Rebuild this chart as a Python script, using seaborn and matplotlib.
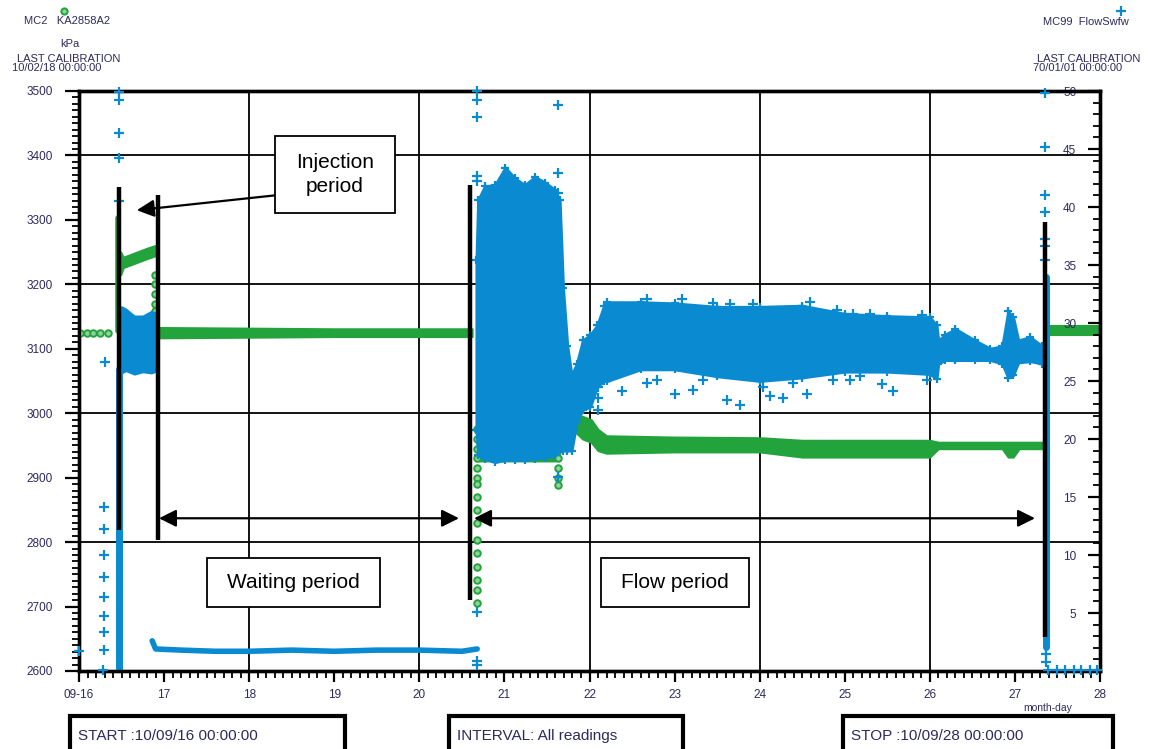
import matplotlib
matplotlib.use("Agg")
import matplotlib.pyplot as plt
from matplotlib.patches import Rectangle
from matplotlib.ticker import MultipleLocator, FixedLocator, FixedFormatter
import seaborn as sns

# ------------------------------------------------------------------
# Time axis: days after 2010-09-16 00:00
# ------------------------------------------------------------------
day_ticks = list(range(0, 13))
day_labels = ["09-16", "17", "18", "19", "20", "21", "22", "23", "24", "25", "26", "27", "28"]
kpa_ticks = [2600, 2700, 2800, 2900, 3000, 3100, 3200, 3300, 3400, 3500]
flow_ticks = [5, 10, 15, 20, 25, 30, 35, 40, 45, 50]
kpa_grid = [2800, 3000, 3200, 3400]
day_grid = [2, 4, 6, 8, 10]

# ------------------------------------------------------------------
# MC99 FlowSwfw (right axis)
# ------------------------------------------------------------------
# scattered readings before injection
flow_pre_d = [0.00, 0.306, 0.294, 0.294, 0.294, 0.294, 0.294, 0.294, 0.294, 0.294, 0.28]
flow_pre_q = [1.7, 26.6, 14.1, 12.2, 10.0, 8.1, 6.4, 4.7, 3.4, 1.8, 0.1]

# start of injection: dense column plus high spikes
flow_inj_col_d = [0.475, 0.475]
flow_inj_col_q = [0.0, 26.0]
flow_inj_spike_d = [0.475, 0.475, 0.475, 0.475, 0.475]
flow_inj_spike_q = [49.9, 49.2, 46.4, 44.2, 40.5]

# injection band (min / max envelope)
flow_inj_d = [0.50, 0.55, 0.65, 0.75, 0.85, 0.89]
flow_inj_hi = [31.4, 31.2, 30.6, 30.6, 31.0, 30.9]
flow_inj_lo = [25.7, 25.9, 25.6, 25.8, 25.7, 25.8]

# waiting period
flow_wait_d = [0.86, 0.90, 1.20, 1.60, 2.00, 2.50, 3.00, 3.50, 4.00, 4.50, 4.68]
flow_wait_q = [2.6, 1.9, 1.8, 1.7, 1.7, 1.8, 1.7, 1.8, 1.8, 1.7, 1.9]

# flow period (min / max envelope of the readings)
flow_per_d = [4.67, 4.69, 4.77, 4.89, 5.01, 5.12, 5.24, 5.36, 5.48, 5.59, 5.65,
              5.69, 5.74, 5.79, 5.85, 5.92, 6.01, 6.09, 6.17, 6.21, 6.60, 7.00,
              7.50, 8.00, 8.50, 9.00, 9.50, 10.00, 10.08, 10.10, 10.18, 10.30,
              10.53, 10.71, 10.85, 10.92, 10.98, 11.04, 11.18, 11.32]
flow_per_hi = [35.4, 40.6, 41.8, 41.9, 43.4, 42.5, 41.9, 42.6, 42.1, 41.5, 40.6,
               33.0, 28.0, 25.5, 26.5, 28.5, 29.0, 29.8, 31.5, 31.8, 31.8, 31.7,
               31.4, 31.4, 31.5, 30.8, 30.6, 30.5, 29.8, 28.5, 29.0, 29.5,
               28.5, 27.8, 28.0, 31.0, 30.5, 28.5, 28.8, 28.0]
flow_per_lo = [20.8, 18.6, 18.3, 18.0, 18.2, 18.2, 18.2, 18.3, 18.4, 18.6, 19.1,
               19.0, 19.0, 19.0, 21.5, 22.5, 22.8, 24.5, 25.0, 25.0, 26.0, 26.0,
               25.4, 25.0, 25.3, 25.8, 25.8, 25.6, 25.2, 26.5, 26.8, 26.8,
               26.8, 26.8, 26.5, 25.3, 25.5, 26.6, 26.7, 26.5]

# isolated readings during the flow period
flow_out_d = [4.68, 4.68, 4.68, 4.68, 4.68, 4.68, 4.68, 4.68,
              5.63, 5.63, 5.63, 5.63, 5.63, 6.10, 6.10, 6.10,
              6.673, 7.084, 7.455, 7.652, 7.925, 8.592, 8.906, 9.101, 9.297, 9.905,
              6.379, 6.673, 7.005, 7.220, 7.613, 7.769, 8.122, 8.278, 8.553, 8.866,
              9.062, 9.435, 9.571, 9.963, 6.790, 6.515, 7.338, 8.043, 8.396, 7.417,
              7.848, 9.180, 9.767]
flow_out_q = [50.0, 49.2, 47.8, 42.7, 42.2, 5.1, 0.9, 0.5,
              48.8, 42.9, 41.2, 19.3, 16.7, 24.5, 23.5, 22.5,
              32.1, 32.1, 31.7, 31.6, 31.6, 31.8, 31.1, 30.8, 30.8, 30.7,
              24.1, 24.8, 23.9, 24.2, 23.4, 22.9, 23.7, 23.5, 23.9, 25.1,
              25.1, 24.7, 24.1, 25.1, 25.1, 26.0, 25.1, 24.5, 24.8, 26.2,
              26.2, 25.4, 26.0]

# end of flow period: dense column, spikes and zero readings
flow_end_col_d = [11.36, 11.36]
flow_end_col_q = [2.1, 34.0]
flow_end_pts_d = [11.354, 11.354, 11.354, 11.354, 11.354, 11.354, 11.354, 11.36, 11.36,
                  11.39, 11.50, 11.59, 11.69, 11.78, 11.88, 11.97]
flow_end_pts_q = [49.8, 45.2, 41.0, 39.6, 37.2, 36.6, 35.4, 1.5, 0.8,
                  0.1, 0.1, 0.1, 0.1, 0.1, 0.1, 0.1]

# ------------------------------------------------------------------
# MC2 KA2858A2 pressure, kPa (left axis)
# ------------------------------------------------------------------
p_pre_d = [0.01, 0.09, 0.17, 0.25, 0.34]
p_pre_v = [3125, 3125, 3125, 3125, 3125]

p_rise_d = [0.455, 0.455]
p_rise_v = [3128, 3303]

p_inj_d = [0.49, 0.52, 0.60, 0.70, 0.80, 0.89]
p_inj_hi = [3250, 3242, 3246, 3251, 3256, 3260]
p_inj_lo = [3215, 3226, 3230, 3235, 3240, 3244]

p_inj_end_d = [0.895, 0.895, 0.895, 0.895, 0.895, 0.895]
p_inj_end_v = [3215, 3200, 3185, 3170, 3158, 3145]

p_wait_d = [0.92, 2.00, 3.00, 4.00, 4.62]
p_wait_hi = [3133, 3132, 3131, 3131, 3131]
p_wait_lo = [3117, 3118, 3119, 3119, 3119]

p_drop_d = [4.68] * 16
p_drop_v = [2975, 2960, 2945, 2930, 2915, 2900, 2890, 2870, 2850, 2830,
            2803, 2783, 2761, 2741, 2726, 2706]

p_dip_d = [5.63, 5.63, 5.63, 5.63]
p_dip_v = [2930, 2915, 2900, 2888]

p_flow_d = [4.68, 5.60, 5.70, 5.80, 5.92, 6.02, 6.10, 6.20, 7.00, 8.00, 8.50,
            9.00, 9.50, 10.00, 10.10, 10.85, 10.92, 10.98, 11.05, 11.32]
p_flow_hi = [2965, 2965, 2985, 3000, 2995, 2990, 2975, 2965, 2963, 2962, 2958,
             2958, 2958, 2958, 2955, 2955, 2955, 2955, 2955, 2955]
p_flow_lo = [2926, 2926, 2950, 2975, 2960, 2955, 2942, 2938, 2940, 2940, 2932,
             2932, 2932, 2932, 2945, 2945, 2932, 2932, 2945, 2945]

p_end_d = [11.36, 12.00]
p_end_hi = [3136, 3136]
p_end_lo = [3122, 3122]

# ------------------------------------------------------------------
BLUE = "#0a8ad0"
GREEN = "#22a33b"
GREEN_FILL = "#8fd39a"
TXT = "#2d2a5e"

sns.set_theme(style="white")
plt.rcParams["font.family"] = ["Liberation Sans", "DejaVu Sans"]

W, H = 1153, 749
fig = plt.figure(figsize=(W / 100, H / 100), dpi=100)
fig.patch.set_facecolor("white")

L, R, T, B = 79, 1100, 91, 671
ax = fig.add_axes([L / W, 1 - B / H, (R - L) / W, (B - T) / H])
ax.set_xlim(0, 12)
ax.set_ylim(2600, 3500)
ax.set_facecolor("white")
ax2 = ax.twinx()
ax2.set_ylim(0, 50)

# grid
for g in kpa_grid:
    ax.axhline(g, color="black", lw=1.3, zorder=0.5)
for g in day_grid:
    ax.axvline(g, color="black", lw=1.3, zorder=0.5)

# ---- pressure (green) ----
for xd, hi, lo in [(p_inj_d, p_inj_hi, p_inj_lo), (p_wait_d, p_wait_hi, p_wait_lo),
                   (p_flow_d, p_flow_hi, p_flow_lo), (p_end_d, p_end_hi, p_end_lo)]:
    ax.fill_between(xd, lo, hi, color=GREEN, lw=1.5, ec=GREEN, zorder=2)
sns.lineplot(x=p_rise_d, y=p_rise_v, ax=ax, color=GREEN, lw=4, sort=False,
             estimator=None, zorder=2)
for xd, yv in [(p_pre_d, p_pre_v), (p_inj_end_d, p_inj_end_v),
               (p_drop_d, p_drop_v), (p_dip_d, p_dip_v)]:
    sns.scatterplot(x=xd, y=yv, ax=ax, marker="o", s=22, color=GREEN_FILL,
                    edgecolor=GREEN, linewidth=1.4, zorder=3)

# ---- flow (blue) ----
ax2.fill_between(flow_inj_d, flow_inj_lo, flow_inj_hi, color=BLUE, ec=BLUE, lw=1.5, zorder=2)
ax2.fill_between(flow_per_d, flow_per_lo, flow_per_hi, color=BLUE, ec=BLUE, lw=2.0, zorder=2)
sns.scatterplot(x=flow_per_d, y=flow_per_hi, ax=ax2, marker="+", s=40, color=BLUE,
                linewidth=1.6, zorder=2)
sns.scatterplot(x=flow_per_d, y=flow_per_lo, ax=ax2, marker="+", s=40, color=BLUE,
                linewidth=1.6, zorder=2)
sns.lineplot(x=flow_wait_d, y=flow_wait_q, ax=ax2, color=BLUE, lw=4, sort=False,
             estimator=None, zorder=2)
for xd, yq in [(flow_inj_col_d, flow_inj_col_q), (flow_end_col_d, flow_end_col_q)]:
    sns.lineplot(x=xd, y=yq, ax=ax2, color=BLUE, lw=5, sort=False, estimator=None, zorder=2)
for xd, yq in [(flow_pre_d, flow_pre_q), (flow_inj_spike_d, flow_inj_spike_q),
               (flow_out_d, flow_out_q), (flow_end_pts_d, flow_end_pts_q)]:
    sns.scatterplot(x=xd, y=yq, ax=ax2, marker="+", s=42, color=BLUE,
                    linewidth=1.6, zorder=3, clip_on=False)

# ---- axes, ticks ----
ax.xaxis.set_major_locator(FixedLocator(day_ticks))
ax.xaxis.set_major_formatter(FixedFormatter(day_labels))
ax.xaxis.set_minor_locator(MultipleLocator(0.1))
ax.yaxis.set_major_locator(FixedLocator(kpa_ticks))
ax.yaxis.set_major_formatter(FixedFormatter([str(v) for v in kpa_ticks]))
ax.yaxis.set_minor_locator(MultipleLocator(10))
ax.tick_params(axis="y", which="major", direction="out", length=10, width=1.6,
               pad=9, labelsize=8.5, labelcolor=TXT, color="black", left=True)
ax.tick_params(axis="y", which="minor", direction="out", length=5, width=1.3,
               color="black", left=True)
ax.tick_params(axis="x", which="major", direction="out", length=8, width=1.6,
               pad=5, labelsize=8.5, labelcolor=TXT, color="black", bottom=True)
ax.tick_params(axis="x", which="minor", direction="out", length=5, width=1.3,
               color="black", bottom=True)

ax2.yaxis.set_major_locator(FixedLocator(flow_ticks))
ax2.yaxis.set_major_formatter(FixedFormatter([str(v) for v in flow_ticks]))
ax2.yaxis.set_minor_locator(MultipleLocator(1))
ax2.tick_params(axis="y", which="major", direction="in", length=8.5, width=1.6,
                pad=-17, labelsize=8.5, labelcolor=TXT, color="black", right=True)
ax2.tick_params(axis="y", which="minor", direction="in", length=5, width=1.3,
                color="black", right=True)
for lab in ax2.get_yticklabels():
    lab.set_horizontalalignment("right")
ax.set_xlabel("")
ax.set_ylabel("")
ax2.set_ylabel("")

for a in (ax, ax2):
    for s in a.spines.values():
        s.set_linewidth(2.4)
        s.set_color("black")
ax.grid(False)
ax2.grid(False)

# ---- period annotations (drawn in pressure coordinates) ----
tr = ax.transData
for xd, y0, y1 in [(0.474, 2819, 3351), (0.925, 2803, 3338),
                   (4.600, 2710, 3354), (11.354, 2653, 3297)]:
    ax2.plot([xd, xd], [y0, y1], color="black", lw=3.2, transform=tr, zorder=6,
             solid_capstyle="butt")

arrow_kw = dict(color="black", lw=1.6, mutation_scale=26, shrinkA=0, shrinkB=0)
ax2.annotate("", xy=(0.68, 3315), xycoords=tr, xytext=(2.30, 3338), textcoords=tr,
             arrowprops=dict(arrowstyle="-|>", **arrow_kw), zorder=7)
ax2.annotate("", xy=(0.94, 2837), xycoords=tr, xytext=(4.466, 2837), textcoords=tr,
             arrowprops=dict(arrowstyle="<|-|>", **arrow_kw), zorder=7)
ax2.annotate("", xy=(4.643, 2837), xycoords=tr, xytext=(11.236, 2837), textcoords=tr,
             arrowprops=dict(arrowstyle="<|-|>", **arrow_kw), zorder=7)

for (x0, x1, y0, y1, label) in [(2.30, 3.71, 3311, 3430, "Injection\nperiod"),
                                (1.50, 3.54, 2699, 2775, "Waiting period"),
                                (6.14, 7.87, 2699, 2775, "Flow period")]:
    ax2.add_patch(Rectangle((x0, y0), x1 - x0, y1 - y0, transform=tr, fc="white",
                            ec="black", lw=1.3, zorder=8))
    ax2.text((x0 + x1) / 2, (y0 + y1) / 2, label, transform=tr, ha="center",
             va="center", fontsize=15, color="black", linespacing=1.3, zorder=9)


# ---- header and footer ----
def ftext(x, y, s, size=8, **kw):
    fig.text(x / W, 1 - y / H, s, fontsize=size, color=TXT, ha="center", va="center", **kw)


fig.add_artist(plt.Line2D([64 / W], [1 - 11 / H], marker="o", ms=4.5, mfc=GREEN_FILL,
                          mec=GREEN, mew=1.4, ls=""))
ftext(67, 21, "MC2   KA2858A2")
ftext(70, 44, "kPa")
ftext(69, 59, "LAST CALIBRATION")
ftext(57, 68, "10/02/18 00:00:00")

fig.add_artist(plt.Line2D([1121 / W], [1 - 11 / H], marker="+", ms=6.5, mec=BLUE,
                          mew=1.6, ls=""))
ftext(1086, 22, "MC99  FlowSwfw")
ftext(1089, 59, "LAST CALIBRATION")
ftext(1078, 68, "70/01/01 00:00:00")
ftext(1048, 708, "month-day", size=7.5)

for (x0, x1, s) in [(70, 345, "START :10/09/16 00:00:00"),
                    (449, 683, "INTERVAL: All readings"),
                    (843, 1113, "STOP :10/09/28 00:00:00")]:
    fig.add_artist(Rectangle((x0 / W, 0 - 4 / H), (x1 - x0) / W, (749 - 716 + 4) / H,
                             transform=fig.transFigure, fc="white", ec="black", lw=3))
    fig.text((x0 + 8) / W, 1 - 736 / H, s, fontsize=11, color=TXT, ha="left", va="center")

fig.savefig("out.png", dpi=100, facecolor="white")
